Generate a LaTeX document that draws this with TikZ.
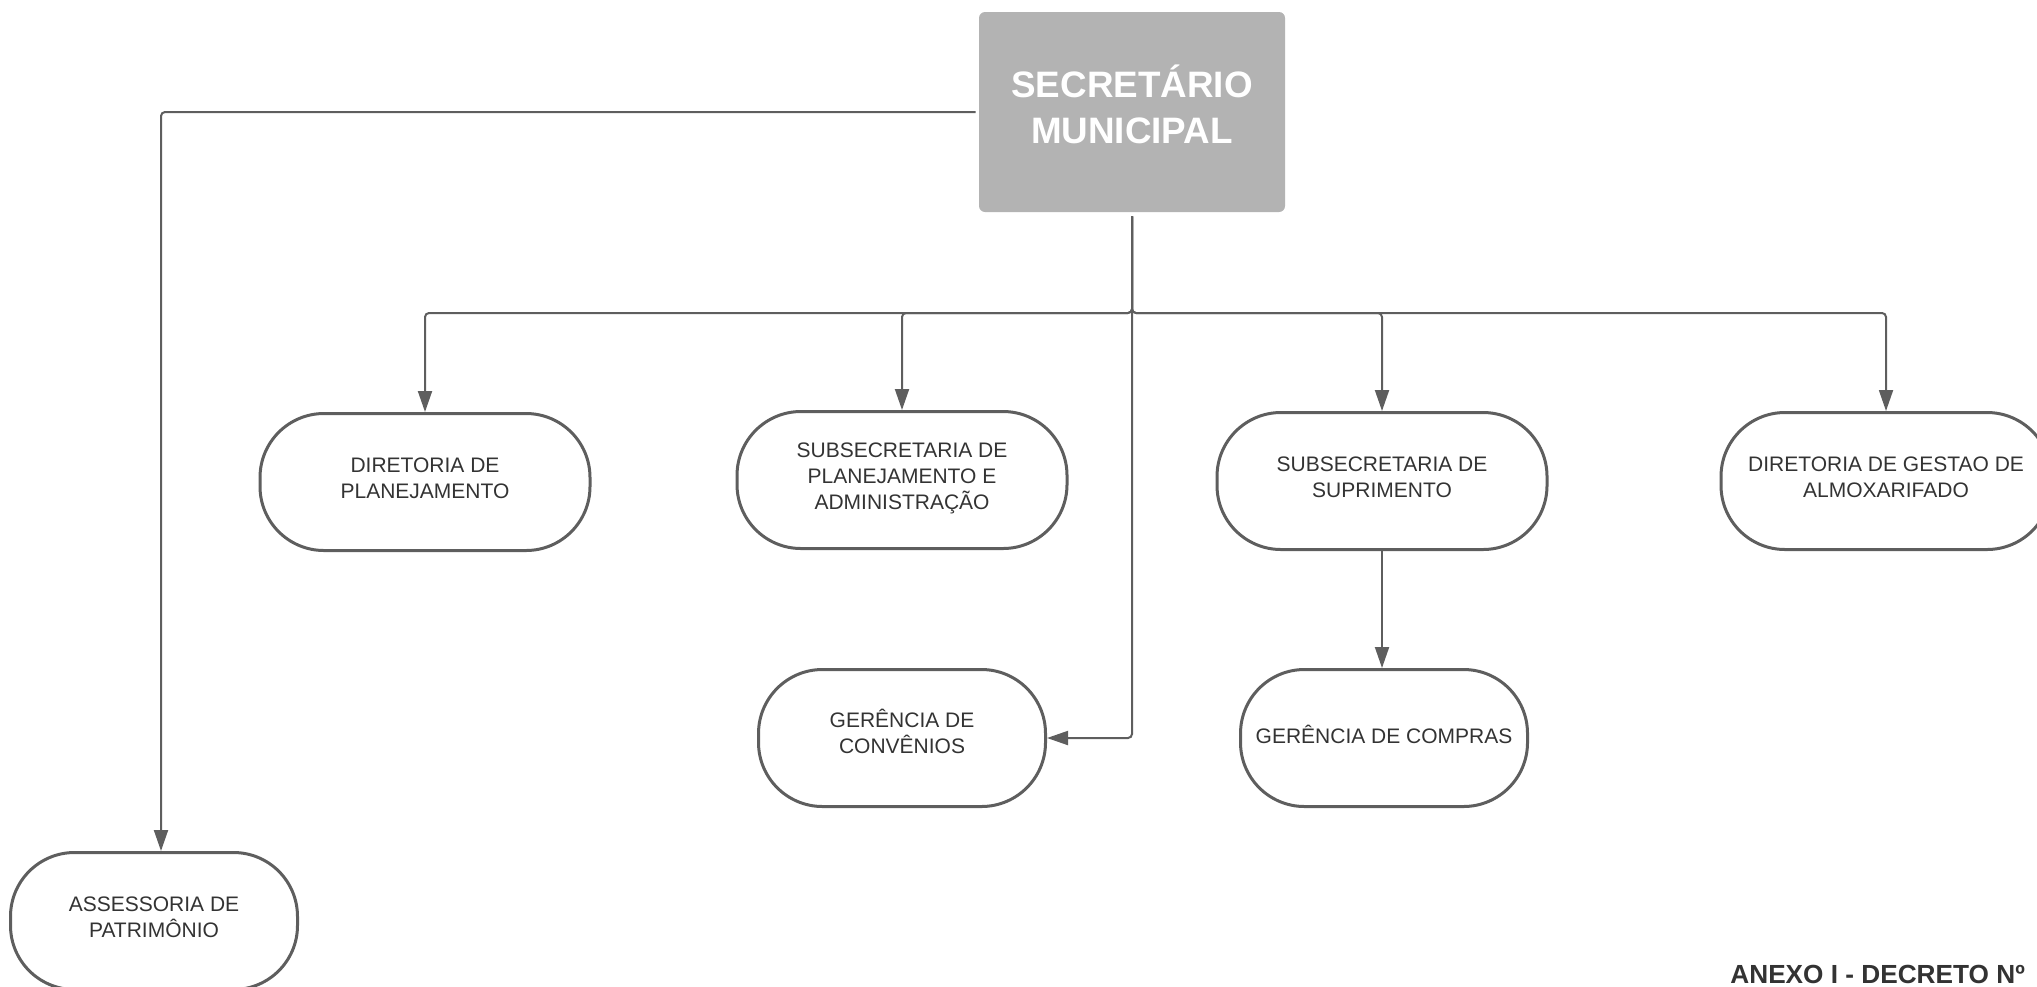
\documentclass[tikz,border=0pt]{standalone}
\usepackage{fontspec}
\setmainfont{Liberation Sans}
\usetikzlibrary{arrows.meta}
\definecolor{linha}{HTML}{5E5E5E}
\definecolor{texto}{HTML}{333333}
\definecolor{caixa}{HTML}{B3B3B3}
\tikzset{
  unidade/.style={draw=linha, line width=1.5pt, rounded corners=32pt, text=texto,
    align=center, minimum width=165pt, minimum height=68.5pt, text depth=4pt,
    font=\fontsize{10.5}{13}\selectfont},
  gerencia/.style={unidade, minimum width=143.5pt},
  conn/.style={draw=linha, line width=1pt, rounded corners=2pt,
    -{Triangle[length=10.5pt,width=7pt]}}
}
\begin{document}
\begin{tikzpicture}[x=0.5pt, y=-0.5pt]
        \useasboundingbox (0,0) rectangle (2037,986);
        % Secretario
        \node[fill=caixa, rounded corners=3pt, minimum width=153pt, minimum height=100pt,
          text=white, align=center, text depth=8pt, font=\fontsize{18.4}{22.7}\selectfont\bfseries]
          (sec) at (1132,112) {SECRETÁRIO\\MUNICIPAL};
        \coordinate (bus) at (1132,313);
        
        % Unidades
        \node[unidade] (dirplan) at (425,482) {DIRETORIA DE\\PLANEJAMENTO};
        \node[unidade] (subplan) at (902,480) {SUBSECRETARIA DE\\PLANEJAMENTO E\\ADMINISTRAÇÃO};
        \node[unidade] (subsup) at (1382,481) {SUBSECRETARIA DE\\SUPRIMENTO};
        \node[unidade] (dirgest) at (1886,481) {DIRETORIA DE GESTAO DE\\ALMOXARIFADO};
        \node[gerencia, text depth=7pt] (conv) at (902,738) {GERÊNCIA DE\\CONVÊNIOS};
        \node[gerencia] (compras) at (1384,738) {GERÊNCIA DE COMPRAS};
        \node[gerencia] (asses) at (154,921) {ASSESSORIA DE\\PATRIMÔNIO};
        
        % Ligacoes
        \foreach \u in {dirplan,subplan,subsup,dirgest} {
            \draw[conn] ([yshift=-2pt]sec.south) -- (bus) -| (\u.north);
        }
        \draw[conn] ([yshift=-2pt]sec.south) |- (conv.east);
        \draw[conn] (subsup.south) -- (subsup.south |- compras.north);
        \draw[conn] ([xshift=-1.5pt]sec.west) -| ([xshift=3.5pt]asses.north);
        
        % Titulo
        \node[anchor=base west, inner sep=0pt, text=texto, font=\fontsize{13.1}{15}\selectfont\bfseries]
          (anexo) at (1730,983) {ANEXO I - DECRETO Nº};
    \end{tikzpicture}
\end{document}
